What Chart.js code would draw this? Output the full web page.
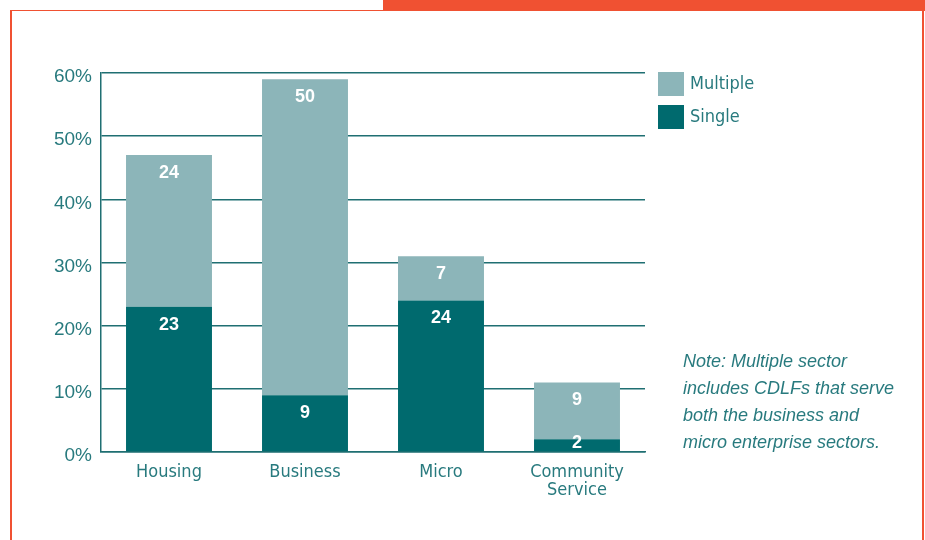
<!DOCTYPE html>
<html>
<head>
<meta charset="utf-8">
<script src="https://cdn.jsdelivr.net/npm/chart.js@4.4.1/dist/chart.umd.min.js"></script>
<style>
  body { margin: 0; background: #fff; }
  #wrap { position: relative; width: 925px; height: 540px; overflow: hidden; }
  #chart { position: absolute; left: 0; top: 0; }
  .edge { position: absolute; background: #f05132; }
  .legend-item { position: absolute; left: 658px; height: 24px; }
  .legend-item span.sw { position: absolute; left: 0; top: 0; width: 26px; height: 24px; }
  .legend-item span.tx {
    position: absolute; left: 32px; top: 0; white-space: nowrap;
    font: 18px "DejaVu Sans Condensed", "Liberation Sans Narrow", "Liberation Sans", sans-serif;
    line-height: 21px;
    color: #287a7e;
  }
  #note {
    position: absolute; left: 683px; top: 348px;
    font: italic 18px "Liberation Sans", sans-serif; color: #287a7e;
    line-height: 27px;
  }
</style>
</head>
<body>
<div id="wrap">
  <div class="edge" style="left:383px;top:0;width:542px;height:11px"></div>
  <div class="edge" style="left:11px;top:10px;width:372px;height:1px"></div>
  <div class="edge" style="left:10px;top:10px;width:1.5px;height:530px"></div>
  <div class="edge" style="left:922px;top:10px;width:2px;height:530px"></div>
  <canvas id="chart" width="925" height="540"></canvas>
  <div id="legend"></div>
  <div id="note">Note: Multiple sector<br>includes CDLFs that serve<br>both the business and<br>micro enterprise sectors.</div>
</div>
<script>
// sector shares (percent of CDLFs)
const sectors = ["Housing", "Business", "Micro", ["Community", "Service"]];
const single = [23, 9, 24, 2];
const multiple = [24, 50, 7, 9];
const yTicks = [0, 10, 20, 30, 40, 50, 60];

const darkTeal = "#006a6e";
const lightTeal = "#8cb5b9";
const textTeal = "#287a7e";
const lineTeal = "#1f6f72";

// legend, top entry first
const legendItems = [
  { label: "Multiple", color: lightTeal, top: 72 },
  { label: "Single", color: darkTeal, top: 105 },
];
const legendBox = document.getElementById("legend");
legendItems.forEach((item) => {
  const el = document.createElement("div");
  el.className = "legend-item";
  el.style.top = item.top + "px";
  el.innerHTML = `<span class="sw" style="background:${item.color}"></span><span class="tx">${item.label}</span>`;
  legendBox.appendChild(el);
});

// white value labels near the top of each segment
const segmentLabels = {
  id: "segmentLabels",
  afterDatasetsDraw(chart) {
    const ctx = chart.ctx;
    ctx.save();
    ctx.fillStyle = "#ffffff";
    ctx.font = "bold 18px 'Liberation Sans', sans-serif";
    ctx.textAlign = "center";
    ctx.textBaseline = "middle";
    chart.data.datasets.forEach((ds, i) => {
      chart.getDatasetMeta(i).data.forEach((bar, j) => {
        const y = Math.min(bar.y + 18, bar.base - 8);
        ctx.fillText(String(ds.data[j]), bar.x, y);
      });
    });
    ctx.restore();
  },
};

new Chart(document.getElementById("chart"), {
  type: "bar",
  data: {
    labels: sectors,
    datasets: [
      { label: "Single", data: single, backgroundColor: darkTeal },
      { label: "Multiple", data: multiple, backgroundColor: lightTeal },
    ],
  },
  options: {
    responsive: false,
    animation: false,
    devicePixelRatio: 1,
    layout: { padding: { left: 1, top: 73, right: 280, bottom: 28 } },
    plugins: { legend: { display: false }, tooltip: { enabled: false } },
    datasets: { bar: { barPercentage: 0.632, categoryPercentage: 1 } },
    scales: {
      x: {
        stacked: true,
        grid: { display: false },
        border: { display: true, color: lineTeal, width: 1.5 },
        ticks: {
          color: textTeal,
          padding: 3,
          maxRotation: 0,
          font: { family: "'DejaVu Sans Condensed', 'Liberation Sans Narrow', 'Liberation Sans', sans-serif", size: 18, lineHeight: 1.0 },
        },
        afterFit: (scale) => { scale.height = 60; },
      },
      y: {
        stacked: true,
        min: 0,
        max: 60,
        afterBuildTicks: (scale) => { scale.ticks = yTicks.map((v) => ({ value: v })); },
        grid: { color: lineTeal, lineWidth: 1.5, drawTicks: false },
        border: { display: true, color: lineTeal, width: 1.5 },
        ticks: {
          color: textTeal,
          padding: 9,
          labelOffset: 4,
          callback: (v) => v + "%",
          font: { family: "'Liberation Sans', sans-serif", size: 19 },
        },
        afterFit: (scale) => { scale.width = 100; },
      },
    },
  },
  plugins: [segmentLabels],
});
</script>
</body>
</html>
